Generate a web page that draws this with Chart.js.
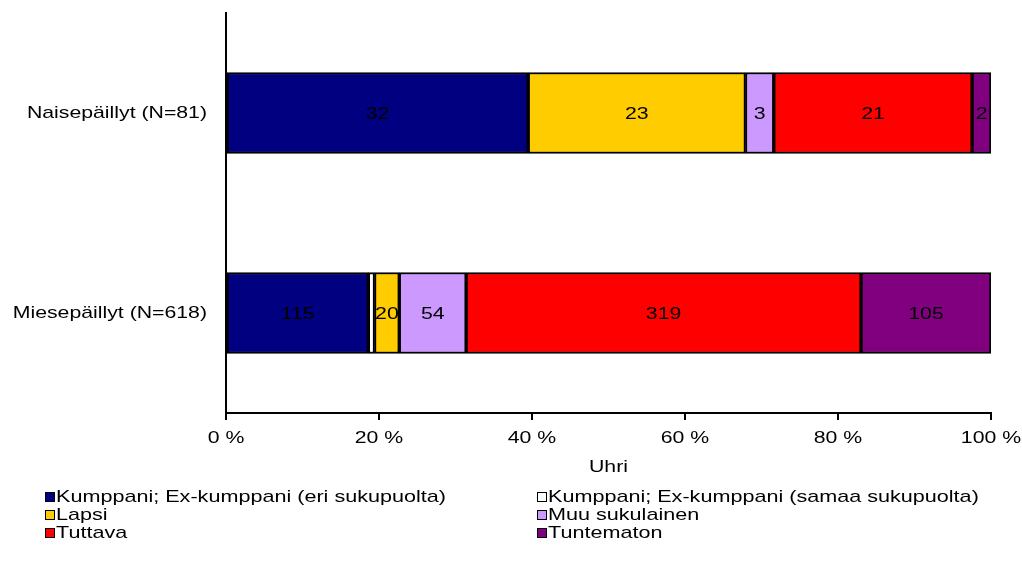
<!DOCTYPE html>
<html>
<head>
<meta charset="utf-8">
<script src="https://cdn.jsdelivr.net/npm/chart.js@4.4.1/dist/chart.umd.min.js"></script>
<style>
  html, body { margin: 0; padding: 0; background: #ffffff; }
  #wrap { position: relative; width: 1022px; height: 565px; }
  #c { position: absolute; left: 0; top: 0; }
  #legend { position: absolute; left: 0; top: 0; width: 1022px; height: 565px; pointer-events: none;
            font-family: "Liberation Sans", Arial, sans-serif; font-size: 17px; color: #000; }
  .item { position: absolute; white-space: nowrap; line-height: 18px; height: 18px; }
  .box { position: absolute; left: 0; top: 4px; width: 8px; height: 8px; border: 1px solid #000; }
  .txt { position: absolute; left: 11px; top: 0; display: inline-block; transform: scaleX(1.27); transform-origin: 0 50%; }
</style>
</head>
<body>
<div id="wrap">
  <canvas id="c" width="1022" height="565"></canvas>
  <div id="legend"></div>
</div>
<script>
// ---- data ----
const categories = ["Naisepäillyt (N=81)", "Miesepäillyt (N=618)"];
const seriesNames = [
  "Kumppani; Ex-kumppani (eri sukupuolta)",
  "Kumppani; Ex-kumppani (samaa sukupuolta)",
  "Lapsi",
  "Muu sukulainen",
  "Tuttava",
  "Tuntematon"
];
const kumppaniEri   = [32, 115];
const kumppaniSamaa = [0, 5];
const lapsi         = [23, 20];
const muuSukulainen = [3, 54];
const tuttava       = [21, 319];
const tuntematon    = [2, 105];
const tickValues = [0, 20, 40, 60, 80, 100];
const axisTitle = "Uhri";

const seriesColors = ["#000080", "#FFFFFF", "#FFCC00", "#CC99FF", "#FF0000", "#800080"];
const seriesCounts = [kumppaniEri, kumppaniSamaa, lapsi, muuSukulainen, tuttava, tuntematon];
const totals = categories.map((_, i) => seriesCounts.reduce((s, arr) => s + arr[i], 0));

const FONT = "'Liberation Sans', Arial, sans-serif";
const FS = 17;
const SX = 1.25; // the reference text is horizontally widened

// widen all canvas text horizontally around its anchor point
const canvas = document.getElementById("c");
const ctx2d = canvas.getContext("2d");
const origFillText = ctx2d.fillText.bind(ctx2d);
ctx2d.fillText = function (text, x, y, maxWidth) {
  this.save();
  this.translate(x, y);
  this.scale(SX, 1);
  if (maxWidth !== undefined && maxWidth !== null) origFillText(text, 0, 0, maxWidth / SX);
  else origFillText(text, 0, 0);
  this.restore();
};

const datasets = seriesCounts.map((arr, k) => ({
  label: seriesNames[k],
  data: arr.map((v, i) => v / totals[i] * 100),
  counts: arr,
  showCount: k !== 1,
  backgroundColor: seriesColors[k],
  borderColor: "#000000",
  borderWidth: 2,
  borderSkipped: false,
  barThickness: 81
}));

const countLabels = {
  id: "countLabels",
  afterDatasetsDraw(chart) {
    const ctx = chart.ctx;
    ctx.save();
    ctx.font = FS + "px " + FONT;
    ctx.fillStyle = "#000";
    ctx.textAlign = "center";
    ctx.textBaseline = "middle";
    chart.data.datasets.forEach((ds, di) => {
      if (!ds.showCount) return;
      const meta = chart.getDatasetMeta(di);
      meta.data.forEach((bar, i) => {
        const v = ds.counts[i];
        if (!v) return;
        const x = (bar.x + bar.base) / 2;
        ctx.fillText(String(v), x, bar.y + 1);
      });
    });
    ctx.restore();
  }
};

const chart = new Chart(ctx2d, {
  type: "bar",
  data: { labels: categories, datasets },
  options: {
    indexAxis: "y",
    responsive: false,
    animation: false,
    devicePixelRatio: 1,
    layout: { padding: { left: 0, right: 31, top: 13, bottom: 82 } },
    plugins: { legend: { display: false }, tooltip: { enabled: false } },
    scales: {
      x: {
        stacked: true,
        min: 0, max: 100,
        afterBuildTicks(scale) { scale.ticks = tickValues.map(v => ({ value: v })); },
        afterFit(scale) { scale.height = 70; scale.paddingLeft = 0; scale.paddingRight = 0; },
        ticks: {
          font: { family: FONT, size: FS },
          color: "#000",
          padding: 8,
          maxRotation: 0,
          autoSkip: false,
          callback: (v) => v + " %"
        },
        grid: { drawOnChartArea: false, drawTicks: true, tickLength: 7, color: "#000", lineWidth: 2 },
        border: { display: true, color: "#000", width: 2 },
        title: { display: true, text: axisTitle, color: "#000", font: { family: FONT, size: FS }, padding: { top: 0, bottom: 5 } }
      },
      y: {
        stacked: true,
        afterFit(scale) { scale.width = 226; scale.paddingTop = 0; scale.paddingBottom = 0; },
        ticks: { font: { family: FONT, size: FS }, color: "#000", padding: 19 },
        grid: { display: true, drawOnChartArea: false, drawTicks: false, color: "#000" },
        border: { display: true, color: "#000", width: 2 }
      }
    }
  },
  plugins: [countLabels]
});

// legend (two columns)
const legendEl = document.getElementById("legend");
const colX = [45, 537];
const rowY = [488, 506, 524];
seriesNames.forEach((name, k) => {
  const div = document.createElement("div");
  div.className = "item";
  div.style.left = colX[k % 2] + "px";
  div.style.top = rowY[Math.floor(k / 2)] + "px";
  const box = document.createElement("span");
  box.className = "box";
  box.style.background = seriesColors[k];
  const txt = document.createElement("span");
  txt.className = "txt";
  txt.textContent = name;
  div.appendChild(box);
  div.appendChild(txt);
  legendEl.appendChild(div);
});
</script>
</body>
</html>
